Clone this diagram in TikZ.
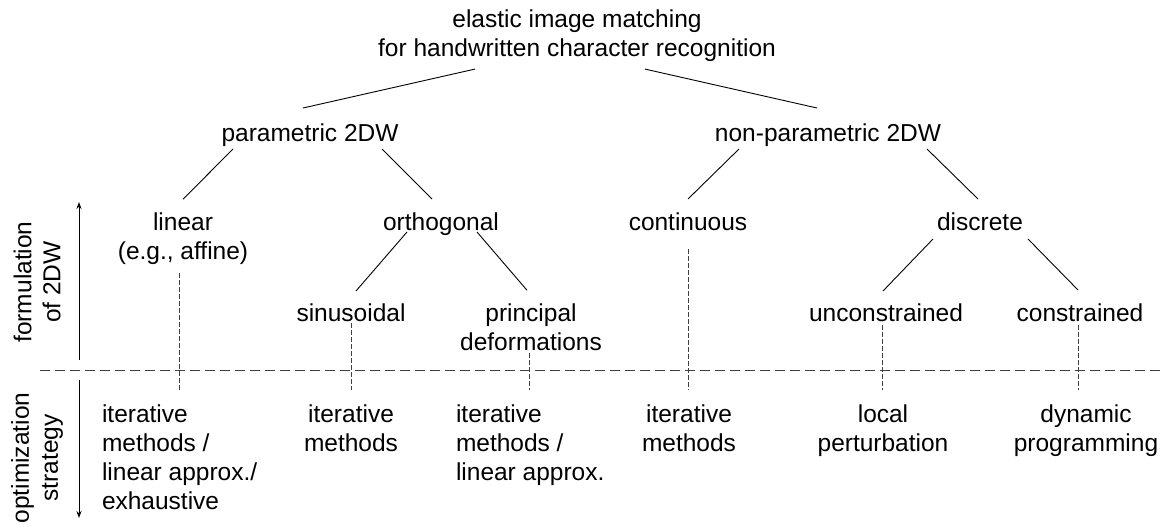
\documentclass[tikz,border=0pt]{standalone}
\usepackage{fontspec}
\setmainfont{Liberation Sans}
\usetikzlibrary{calc,arrows.meta}
\tikzset{
  lbl/.style={inner sep=0pt, outer sep=0pt, align=center, font=\fontsize{24.5}{29}\selectfont},
  lblL/.style={lbl, align=left},
  tree/.style={line width=0.9pt, black},
  vdash/.style={line width=0.9pt, black!75, dash pattern=on 4.5pt off 2.5pt},
  hdash/.style={line width=0.9pt, black!75, dash pattern=on 10pt off 5pt},
  axis/.style={line width=0.9pt, black, -{Stealth[length=7pt,width=5pt]}}
}
\begin{document}
\begin{tikzpicture}[x=1pt,y=-1pt]
\useasboundingbox (0,0) rectangle (1163,527);
% nodes (base anchor = baseline of the last line)
\node[lbl, anchor=base] (title) at (577,57) {elastic image matching\\for handwritten character recognition};
\node[lbl, anchor=base] (param) at (310,141) {parametric 2DW};
\node[lbl, anchor=base] (nonparam) at (828,141) {non-parametric 2DW};
\node[lbl, anchor=base] (lin) at (183,259) {linear\\(e.g., affine)};
\node[lbl, anchor=base] (orth) at (441,230) {orthogonal};
\node[lbl, anchor=base] (cont) at (688,230) {continuous};
\node[lbl, anchor=base] (disc) at (980,230) {discrete};
\node[lbl, anchor=base] (sin) at (351,321) {sinusoidal};
\node[lbl, anchor=base] (princ) at (531,350) {principal\\deformations};
\node[lbl, anchor=base] (unc) at (886,321) {unconstrained};
\node[lbl, anchor=base] (con) at (1080,321) {constrained};
% strategies
\node[lblL, anchor=base west] (s1) at (102,509) {iterative\\methods /\\linear approx./\\exhaustive};
\node[lbl, anchor=base] (s2) at (351,451) {iterative\\methods};
\node[lblL, anchor=base west] (s3) at (456,480) {iterative\\methods /\\linear approx.};
\node[lbl, anchor=base] (s4) at (689,451) {iterative\\methods};
\node[lbl, anchor=base] (s5) at (883,451) {local\\perturbation};
\node[lbl, anchor=base] (s6) at (1086,451) {dynamic\\programming};
% axis labels
\node[lbl, rotate=90] (ax1) at (37,282) {formulation\\of 2DW};
\node[lbl, rotate=90] (ax2) at (37,458) {optimization\\strategy};
\coordinate (axmid1) at (79,360);
\coordinate (axtop) at (79,202);
\coordinate (axmid2) at (79,380);
\coordinate (axbot) at (79,518);
\draw[axis] (axmid1) -- (axtop);
\draw[axis] (axmid2) -- (axbot);
% separator
\coordinate (sepL) at (40,370);
\coordinate (sepR) at (1163,370);
\draw[hdash] (sepL) -- (sepR);
% tree connectors
\draw[tree] ($(title.south)+(-102,7)$) -- ($(param.base)+(-7,-33)$);
\draw[tree] ($(title.south)+(68,7)$) -- ($(nonparam.base)+(-11,-33)$);
\draw[tree] ($(param.base)+(-77,8)$) -- ($(lin.north)+(0,-13)$);
\draw[tree] ($(param.base)+(72,8)$) -- ($(orth.base)+(-9,-31)$);
\draw[tree] ($(nonparam.base)+(-89,8)$) -- ($(cont.base)+(0,-31)$);
\draw[tree] ($(nonparam.base)+(99,8)$) -- ($(disc.base)+(-2,-31)$);
\draw[tree] ($(orth.base)+(-34,2)$) -- ($(sin.base)+(5,-30)$);
\draw[tree] ($(orth.base)+(36,2)$) -- ($(princ.north)+(-4,-13)$);
\draw[tree] ($(disc.base)+(-47,9)$) -- ($(unc.base)+(-3,-30)$);
\draw[tree] ($(disc.base)+(48,9)$) -- ($(con.base)+(-2,-31)$);
% dashed connectors to strategies
\coordinate (e1) at (179,390);
\coordinate (e2) at (351,390);
\coordinate (e3) at (529,390);
\coordinate (e4) at (688,390);
\coordinate (e5) at (882,390);
\coordinate (e6) at (1078,390);
\draw[vdash] ($(lin.south)+(-4,9)$) -- (e1);
\draw[vdash] ($(sin.south)+(0,2)$) -- (e2);
\draw[vdash] ($(princ.south)+(-2,3)$) -- (e3);
\draw[vdash] ($(cont.south)+(0,19)$) -- (e4);
\draw[vdash] ($(unc.south)+(-4,4)$) -- (e5);
\draw[vdash] ($(con.south)+(-2,4)$) -- (e6);
\end{tikzpicture}
\end{document}
